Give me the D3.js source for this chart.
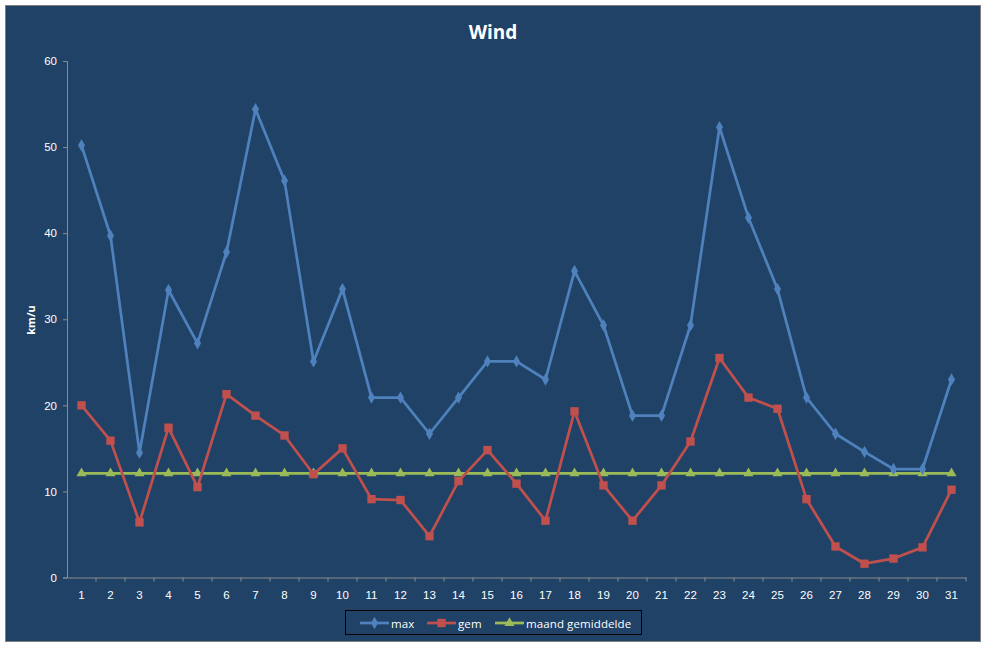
<!DOCTYPE html>
<html>
<head>
<meta charset="utf-8">
<script src="https://cdn.jsdelivr.net/npm/d3@7"></script>
<style>
  html, body { margin: 0; padding: 0; background: #ffffff; }
  svg { display: block; font-family: "Open Sans", "DejaVu Sans", sans-serif; }
</style>
</head>
<body>
<div id="chart"></div>
<script>
// days of the month
let days = ["1", "2", "3", "4", "5", "6", "7", "8", "9", "10", "11", "12", "13", "14", "15", "16",
    "17", "18", "19", "20", "21", "22", "23", "24", "25", "26", "27", "28", "29", "30", "31"];
let maxValues = [50.2, 39.7, 14.5, 33.4, 27.2, 37.8, 54.4, 46.1, 25.1, 33.5, 20.9, 20.9, 16.7, 20.9, 25.1, 25.1,
    23.0, 35.6, 29.3, 18.8, 18.8, 29.3, 52.3, 41.8, 33.5, 20.9, 16.7, 14.6, 12.6, 12.6, 23.0];
let gemValues = [20.0, 15.9, 6.4, 17.4, 10.5, 21.3, 18.8, 16.5, 12.0, 15.0, 9.1, 9.0, 4.8, 11.2, 14.8, 10.9,
    6.6, 19.3, 10.7, 6.6, 10.7, 15.8, 25.5, 20.9, 19.6, 9.1, 3.6, 1.6, 2.2, 3.5, 10.2];
let avgValues = [12.1, 12.1, 12.1, 12.1, 12.1, 12.1, 12.1, 12.1, 12.1, 12.1, 12.1, 12.1, 12.1, 12.1, 12.1, 12.1,
    12.1, 12.1, 12.1, 12.1, 12.1, 12.1, 12.1, 12.1, 12.1, 12.1, 12.1, 12.1, 12.1, 12.1, 12.1];
let yTicks = [0, 10, 20, 30, 40, 50, 60];
let seriesNames = ["max", "gem", "maand gemiddelde"];

let width = 987, height = 648;
let plot = { left: 67, right: 966, top: 61, bottom: 577.5 };
let colors = ["#4f81bd", "#c0504d", "#9bbb59"];
let symbols = [d3.symbolDiamond, d3.symbolSquare, d3.symbolTriangle];
let symbolSizes = [44, 70, 44];

let svg = d3.select("#chart").append("svg")
    .attr("width", width)
    .attr("height", height);

// chart area with its frame
svg.append("rect")
    .attr("x", 5.5).attr("y", 5.5)
    .attr("width", 975).attr("height", 636)
    .attr("fill", "#1f4266")
    .attr("stroke", "#7f7f7f")
    .attr("stroke-width", 1);

let x = d3.scaleBand().domain(days).range([plot.left, plot.right]);
let y = d3.scaleLinear().domain([0, 60]).range([plot.bottom, plot.top]);

// y axis
let yAxis = svg.append("g")
    .attr("transform", "translate(" + plot.left + ",0)")
    .call(d3.axisLeft(y).tickValues(yTicks).tickSize(4).tickPadding(6));
yAxis.select(".domain").attr("stroke", "#8c8c8c");
yAxis.selectAll(".tick line").attr("stroke", "#8c8c8c");
yAxis.selectAll("text").attr("fill", "#ffffff").style("font-size", "11.5px");

// x axis, ticks between the categories
let xAxis = svg.append("g")
    .attr("transform", "translate(0," + plot.bottom + ")")
    .call(d3.axisBottom(x).tickSize(0).tickPadding(13));
xAxis.select(".domain").attr("stroke", "#8c8c8c");
xAxis.selectAll("text").attr("fill", "#ffffff").style("font-size", "11.5px");
svg.append("g").selectAll("line")
    .data(days)
    .join("line")
    .attr("x1", d => x(d) + x.bandwidth())
    .attr("x2", d => x(d) + x.bandwidth())
    .attr("y1", plot.bottom)
    .attr("y2", plot.bottom + 4)
    .attr("stroke", "#8c8c8c");

// title and axis label
svg.append("text")
    .attr("x", 493).attr("y", 39)
    .attr("text-anchor", "middle")
    .attr("fill", "#ffffff")
    .style("font-size", "19px")
    .style("font-weight", "bold")
    .text("Wind");

svg.append("text")
    .attr("transform", "translate(35,320) rotate(-90)")
    .attr("text-anchor", "middle")
    .attr("fill", "#ffffff")
    .style("font-size", "11px")
    .style("font-weight", "bold")
    .text("km/u");

// series
let allSeries = [maxValues, gemValues, avgValues];
let line = d3.line()
    .x((d, i) => x(days[i]) + x.bandwidth() / 2)
    .y(d => y(d));

[2, 1, 0].forEach(function (s) {
    let g = svg.append("g");
    g.append("path")
        .datum(allSeries[s])
        .attr("d", line)
        .attr("fill", "none")
        .attr("stroke", colors[s])
        .attr("stroke-width", 2.75)
        .attr("stroke-linejoin", "round");
    g.selectAll("path.marker")
        .data(allSeries[s])
        .join("path")
        .attr("class", "marker")
        .attr("transform", (d, i) => "translate(" + (x(days[i]) + x.bandwidth() / 2) + "," + y(d) + ")")
        .attr("d", d3.symbol().type(symbols[s]).size(symbolSizes[s]))
        .attr("fill", colors[s]);
});

// legend
let legend = svg.append("g");
legend.append("rect")
    .attr("x", 345.5).attr("y", 610.5)
    .attr("width", 296).attr("height", 24)
    .attr("fill", "none")
    .attr("stroke", "#000000");

let legendX = [360, 427, 495];
seriesNames.forEach(function (name, s) {
    let item = legend.append("g").attr("transform", "translate(" + legendX[s] + ",623)");
    item.append("line")
        .attr("x1", 0).attr("x2", 29)
        .attr("stroke", colors[s])
        .attr("stroke-width", 2.75);
    item.append("path")
        .attr("transform", "translate(14.5,0)")
        .attr("d", d3.symbol().type(symbols[s]).size(symbolSizes[s]))
        .attr("fill", colors[s]);
    item.append("text")
        .attr("x", 31).attr("y", 4.5)
        .attr("fill", "#ffffff")
        .style("font-size", "11.5px")
        .style("letter-spacing", "0.1px")
        .text(name);
});
</script>
</body>
</html>
